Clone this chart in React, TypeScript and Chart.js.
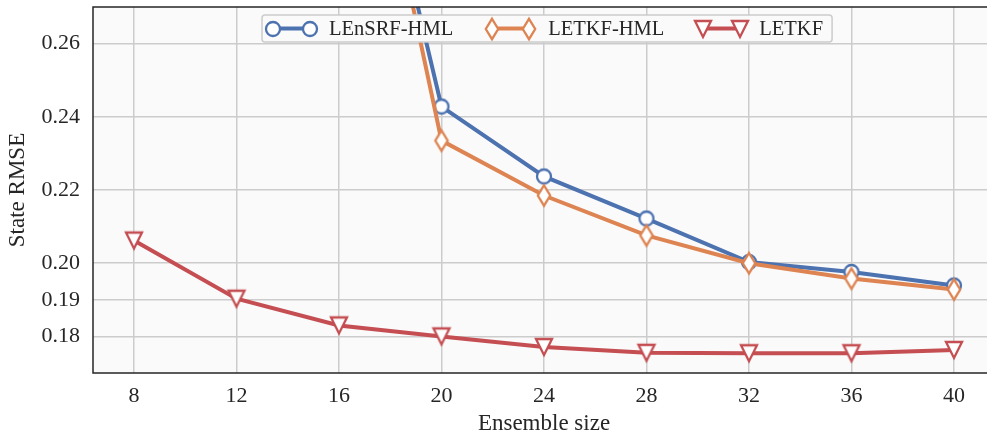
import { useEffect, useRef } from 'react';
import { Chart, registerables } from 'chart.js';

Chart.register(...registerables);

// ---- data ----
const ensembleSizes = [8, 12, 16, 20, 24, 28, 32, 36, 40];
const lensrfHml = [null, null, 0.361, 0.2428, 0.2237, 0.2122, 0.2003, 0.1976, 0.1939];
const letkfHml = [null, null, 0.365, 0.2335, 0.2185, 0.2076, 0.2, 0.1958, 0.1928];
const letkf = [0.2062, 0.1903, 0.183, 0.18, 0.1771, 0.1755, 0.1754, 0.1754, 0.1763];
const xTicks = [8, 12, 16, 20, 24, 28, 32, 36, 40];
const yTicks = [0.18, 0.19, 0.2, 0.22, 0.24, 0.26];
const seriesLabels = ['LEnSRF-HML', 'LETKF-HML', 'LETKF'];
const seriesColors = ['#4c72b0', '#dd8452', '#c44e52'];
const xTitle = 'Ensemble size';
const yTitle = 'State RMSE';

const FONT = "'Liberation Serif', 'Times New Roman', serif";
const TEXT = '#262626';
const MW = 2.3;

function makeCircle(color: string) {
  const c = document.createElement('canvas');
  c.width = 22; c.height = 22;
  const ctx = c.getContext('2d')!;
  ctx.beginPath();
  ctx.arc(11, 11, 7, 0, Math.PI * 2);
  ctx.fillStyle = '#ffffff';
  ctx.fill();
  ctx.lineWidth = MW;
  ctx.strokeStyle = color;
  ctx.stroke();
  return c;
}

function makeDiamond(color: string) {
  const c = document.createElement('canvas');
  c.width = 22; c.height = 30;
  const ctx = c.getContext('2d')!;
  const cx = 11, cy = 15, hw = 6.2, hh = 10.2;
  ctx.beginPath();
  ctx.moveTo(cx, cy - hh);
  ctx.lineTo(cx + hw, cy);
  ctx.lineTo(cx, cy + hh);
  ctx.lineTo(cx - hw, cy);
  ctx.closePath();
  ctx.fillStyle = '#ffffff';
  ctx.fill();
  ctx.lineJoin = 'miter';
  ctx.lineWidth = MW;
  ctx.strokeStyle = color;
  ctx.stroke();
  return c;
}

function makeTriangleDown(color: string) {
  const c = document.createElement('canvas');
  c.width = 26; c.height = 28;
  const ctx = c.getContext('2d')!;
  const cx = 13, cy = 14, h = 8;
  ctx.beginPath();
  ctx.moveTo(cx - h, cy - h);
  ctx.lineTo(cx + h, cy - h);
  ctx.lineTo(cx, cy + h);
  ctx.closePath();
  ctx.fillStyle = '#ffffff';
  ctx.fill();
  ctx.lineJoin = 'miter';
  ctx.lineWidth = MW;
  ctx.strokeStyle = color;
  ctx.stroke();
  return c;
}

export default function App() {
  const ref = useRef<HTMLCanvasElement | null>(null);

  useEffect(() => {
    document.body.style.margin = '0';
    const canvas = ref.current;
    if (!canvas) return;

    const markers = [
      makeCircle(seriesColors[0]),
      makeDiamond(seriesColors[1]),
      makeTriangleDown(seriesColors[2]),
    ];
    const seriesValues = [lensrfHml, letkfHml, letkf];

    const framePlugin = {
      id: 'frame',
      beforeDraw(chart: any) {
        const { ctx, chartArea: a } = chart;
        ctx.save();
        ctx.fillStyle = '#fafafa';
        ctx.fillRect(a.left, a.top, a.right - a.left, a.bottom - a.top);
        ctx.restore();
      },
      afterDatasetsDraw(chart: any) {
        const { ctx, chartArea: a } = chart;
        ctx.save();
        ctx.strokeStyle = '#262626';
        ctx.lineWidth = 1.5;
        ctx.beginPath();
        ctx.moveTo(a.right + 5, a.top);
        ctx.lineTo(a.left, a.top);
        ctx.lineTo(a.left, a.bottom);
        ctx.lineTo(a.right + 5, a.bottom);
        ctx.stroke();
        ctx.restore();
      },
      afterDraw(chart: any) {
        const { ctx } = chart;
        ctx.save();
        ctx.font = `20.5px ${FONT}`;
        const y = 28.5;
        let x0 = 273;
        const items: { m1: number; m2: number; tx: number; w: number }[] = [];
        for (let i = 0; i < seriesLabels.length; i++) {
          const w = ctx.measureText(seriesLabels[i]).width;
          items.push({ m1: x0, m2: x0 + 37, tx: x0 + 56, w });
          x0 = x0 + 56 + w + 39;
        }
        const last = items[items.length - 1];
        const bx = 262, by = 15, bw = last.tx + last.w + 9 - bx, bh = 27;
        ctx.beginPath();
        const r = 3;
        ctx.moveTo(bx + r, by);
        ctx.arcTo(bx + bw, by, bx + bw, by + bh, r);
        ctx.arcTo(bx + bw, by + bh, bx, by + bh, r);
        ctx.arcTo(bx, by + bh, bx, by, r);
        ctx.arcTo(bx, by, bx + bw, by, r);
        ctx.closePath();
        ctx.fillStyle = '#fafafa';
        ctx.fill();
        ctx.lineWidth = 1.5;
        ctx.strokeStyle = '#cccccc';
        ctx.stroke();
        items.forEach((it, i) => {
          ctx.beginPath();
          ctx.moveTo(it.m1, y);
          ctx.lineTo(it.m2, y);
          ctx.lineWidth = 4;
          ctx.strokeStyle = seriesColors[i];
          ctx.stroke();
          const m = markers[i];
          ctx.drawImage(m, Math.round(it.m1 - m.width / 2), Math.round(y - m.height / 2));
          ctx.drawImage(m, Math.round(it.m2 - m.width / 2), Math.round(y - m.height / 2));
          ctx.fillStyle = TEXT;
          ctx.textBaseline = 'middle';
          ctx.textAlign = 'left';
          ctx.fillText(seriesLabels[i], it.tx, y + 1);
        });
        ctx.restore();
      },
    };

    const datasets = seriesValues.map((vals, i) => ({
      label: seriesLabels[i],
      data: ensembleSizes.map((x, j) => ({ x, y: vals[j] })),
      borderColor: seriesColors[i],
      backgroundColor: '#ffffff',
      borderWidth: 4,
      pointStyle: markers[i],
      pointRadius: 7,
      tension: 0,
      clip: 0,
      order: 3 - i,
    }));

    const chart = new Chart(canvas, {
      type: 'line',
      data: { datasets },
      plugins: [framePlugin],
      options: {
        animation: false,
        responsive: false,
        devicePixelRatio: 1,
        layout: { autoPadding: false, padding: { top: 7, right: 5, left: 0, bottom: 0 } },
        plugins: { legend: { display: false }, tooltip: { enabled: false } },
        scales: {
          x: {
            type: 'linear',
            min: 6.4,
            max: 41.6,
            afterBuildTicks: (s: any) => {
              s.ticks = xTicks.map((v) => ({ value: v }));
            },
            afterFit: (s: any) => {
              s.height = 66;
              s.paddingLeft = 0;
              s.paddingRight = 0;
              s.paddingTop = 0;
              s.paddingBottom = 0;
            },
            grid: { color: '#cccccc', lineWidth: 1.5, drawTicks: false },
            border: { display: false },
            ticks: {
              font: { family: FONT, size: 22 },
              color: TEXT,
              padding: 10,
              callback: (v: any) => String(v),
            },
            title: {
              display: true,
              text: xTitle,
              font: { family: FONT, size: 23 },
              color: TEXT,
              padding: { top: 0, bottom: 1 },
            },
          },
          y: {
            type: 'linear',
            min: 0.17,
            max: 0.27,
            afterBuildTicks: (s: any) => {
              s.ticks = yTicks.map((v) => ({ value: v }));
            },
            afterFit: (s: any) => {
              s.width = 93;
              s.paddingLeft = 0;
              s.paddingRight = 0;
              s.paddingTop = 0;
              s.paddingBottom = 0;
            },
            grid: { color: '#cccccc', lineWidth: 1.5, drawTicks: false },
            border: { display: false },
            ticks: {
              font: { family: FONT, size: 22 },
              color: TEXT,
              padding: 13,
              callback: (v: any) => Number(v).toFixed(2),
            },
            title: {
              display: true,
              text: yTitle,
              font: { family: FONT, size: 23 },
              color: TEXT,
              padding: { top: 4, bottom: 0 },
            },
          },
        },
      },
    } as any);

    return () => chart.destroy();
  }, []);

  return (
    <div style={{ width: 987, height: 439, overflow: 'hidden' }}>
      <canvas ref={ref} width={1000} height={439} style={{ display: 'block' }} />
    </div>
  );
}
